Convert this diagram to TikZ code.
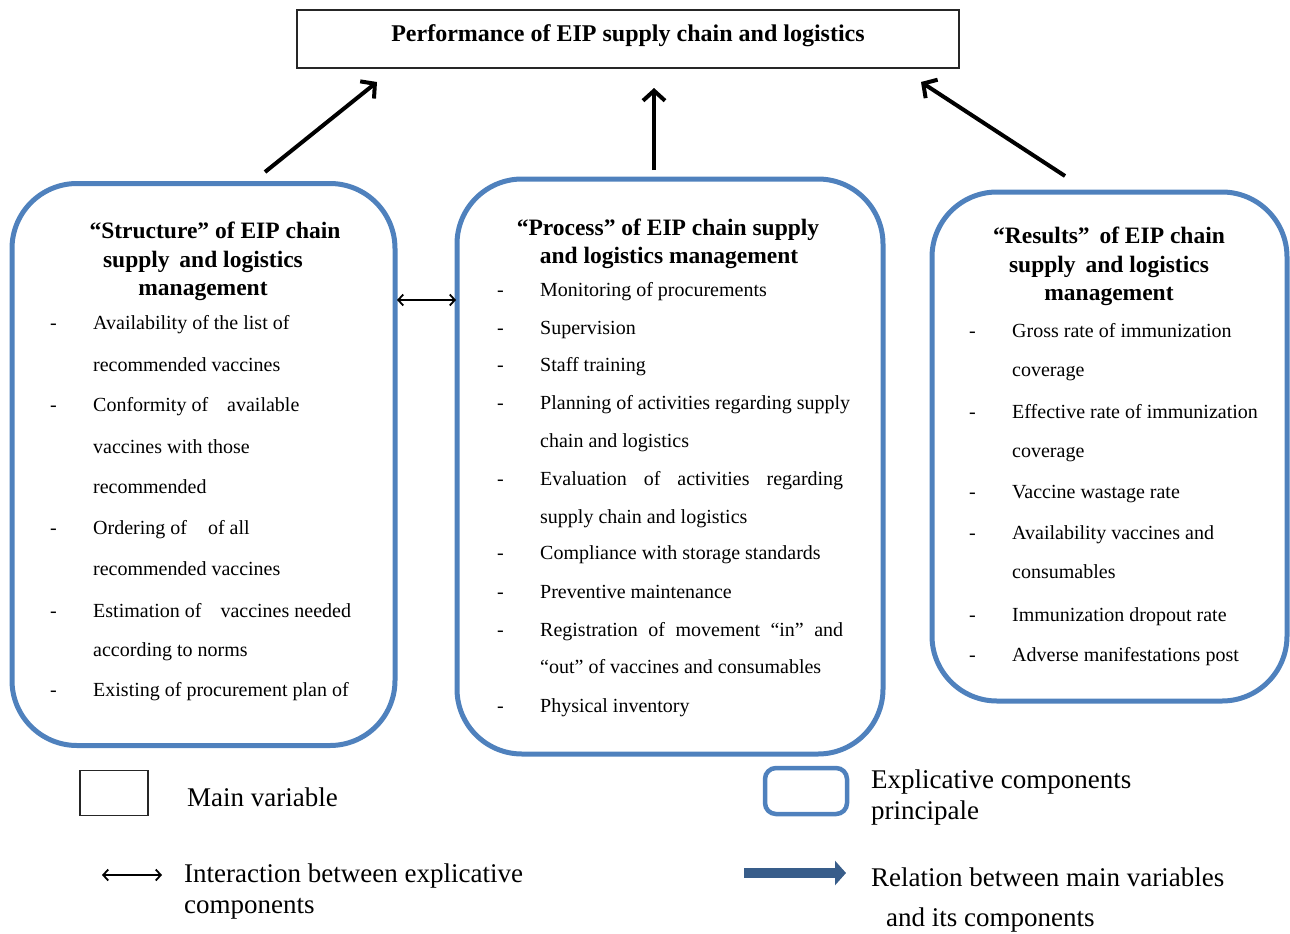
\documentclass[tikz,border=0pt]{standalone}
\usepackage{fontspec}
\setmainfont{Liberation Serif}
\usetikzlibrary{arrows.meta}
\definecolor{boxblue}{RGB}{79,129,189}
\definecolor{relblue}{RGB}{56,93,138}
\begin{document}
\begin{tikzpicture}[x=1pt,y=-1pt,
  bluebox/.style={draw=boxblue, line width=5pt, rounded corners=65pt, inner sep=0pt, outer sep=0pt},
  mainbox/.style={draw=black!85, line width=1.8pt, inner sep=0pt, outer sep=0pt},
  itemtxt/.style={anchor=base west, inner sep=0pt, font=\fontsize{20}{24}\selectfont},
  headtxt/.style={anchor=base, inner sep=0pt, font=\fontsize{23.5}{28}\selectfont\bfseries},
  titletxt/.style={anchor=base, inner sep=0pt, font=\fontsize{24}{28}\selectfont\bfseries},
  legtxt/.style={anchor=base west, inner sep=0pt, font=\fontsize{27}{32}\selectfont},
  bigarrow/.style={line width=4pt, -{Straight Barb[length=10pt,width=22pt]}},
  interarrow/.style={line width=1.8pt, {Straight Barb[length=5pt,width=11pt]}-{Straight Barb[length=5pt,width=11pt]}},
  relarrow/.style={draw=relblue, line width=10pt, -{Triangle[length=11pt,width=24pt]}}
]
\useasboundingbox (0,0) rectangle (1290,934);

% main variable
\node[mainbox, minimum width=662pt, minimum height=58pt] (perf) at (628,39) {};
\node[titletxt] (perft) at (628,42) {Performance of EIP supply chain and logistics};

% component boxes
\node[bluebox, minimum width=383pt, minimum height=562pt] (sbox) at (203.5,464.5) {};
\node[bluebox, minimum width=426pt, minimum height=575pt] (pbox) at (670,466.5) {};
\node[bluebox, minimum width=355pt, minimum height=509pt] (rbox) at (1109.5,446.5) {};

% headings
\node[headtxt] (sh1) at (215,238) {“Structure” of EIP chain};
\node[headtxt] (sh2) at (203,267) {supply\, and logistics};
\node[headtxt] (sh3) at (203,295) {management};
\node[headtxt] (ph1) at (668,235) {“Process” of EIP chain supply};
\node[headtxt] (ph2) at (669,263) {and logistics management};
\node[headtxt] (rh1) at (1109,243) {“Results”\, of EIP chain};
\node[headtxt] (rh2) at (1109,272) {supply\, and logistics};
\node[headtxt] (rh3) at (1109,300) {management};

% structure items
\foreach \y/\t [count=\i] in {329/Availability of the list of, 371/recommended vaccines,
  411/Conformity of\hspace{14pt} available, 453/vaccines with those, 493/recommended,
  534/Ordering of\hspace{16pt} of all, 575/recommended vaccines,
  617/Estimation of\hspace{14pt} vaccines needed, 656/according to norms,
  696/Existing of procurement plan of}
  \node[itemtxt] (si\i) at (93,\y) {\t};
\foreach \y [count=\i] in {329,411,534,617,696}
  \node[itemtxt] (sd\i) at (50,\y) {-};

% process items
\foreach \y/\t [count=\i] in {296/Monitoring of procurements, 334/Supervision, 371/Staff training,
  409/Planning of activities regarding supply, 447/chain and logistics,
  485/\makebox[303pt][s]{Evaluation of activities regarding}, 523/supply chain and logistics,
  559/Compliance with storage standards, 598/Preventive maintenance,
  636/\makebox[303pt][s]{Registration of movement “in” and},
  673/“out” of vaccines and consumables, 712/Physical inventory}
  \node[itemtxt] (pi\i) at (540,\y) {\t};
\foreach \y [count=\i] in {296,334,371,409,485,559,598,636,712}
  \node[itemtxt] (pd\i) at (497,\y) {-};

% results items
\foreach \y/\t [count=\i] in {337/Gross rate of immunization, 376/coverage,
  418/Effective rate of immunization, 457/coverage, 498/Vaccine wastage rate,
  539/Availability vaccines and, 578/consumables, 621/Immunization dropout rate,
  661/Adverse manifestations post}
  \node[itemtxt] (ri\i) at (1012,\y) {\t};
\foreach \y [count=\i] in {337,418,498,539,621,661}
  \node[itemtxt] (rd\i) at (969,\y) {-};

% relation arrows
\coordinate (a1s) at (265,172);
\coordinate (a1e) at (377,82);
\coordinate (a2s) at (654,170);
\coordinate (a2e) at (654,88);
\coordinate (a3s) at (1065,176);
\coordinate (a3e) at (921,82);
\draw[bigarrow] (a1s) -- (a1e);
\draw[bigarrow] (a2s) -- (a2e);
\draw[bigarrow] (a3s) -- (a3e);

% interaction arrow
\coordinate (ia) at (0,300);
\draw[interarrow, shorten <=2pt, shorten >=1pt] (sbox.east |- ia) -- (pbox.west |- ia);

% legend
\node[mainbox, minimum width=68pt, minimum height=45pt] (lgmain) at (114,793) {};
\node[legtxt] (lgmaint) at (187,806) {Main variable};
\coordinate (li1) at (102,875);
\coordinate (li2) at (162,875);
\draw[interarrow] (li1) -- (li2);
\node[legtxt] (lgint1) at (184,882) {Interaction between explicative};
\node[legtxt] (lgint2) at (184,913) {components};
\node[bluebox, rounded corners=11pt, line width=4.5pt, minimum width=82pt, minimum height=46pt] (lgblue) at (806,791) {};
\node[legtxt] (lgexp1) at (871,788) {Explicative components};
\node[legtxt] (lgexp2) at (871,819) {principale};
\coordinate (lr1) at (744,873);
\coordinate (lr2) at (846,873);
\draw[relarrow] (lr1) -- (lr2);
\node[legtxt] (lgrel1) at (871,886) {Relation between main variables};
\node[legtxt] (lgrel2) at (886,926) {and its components};
\end{tikzpicture}
\end{document}
